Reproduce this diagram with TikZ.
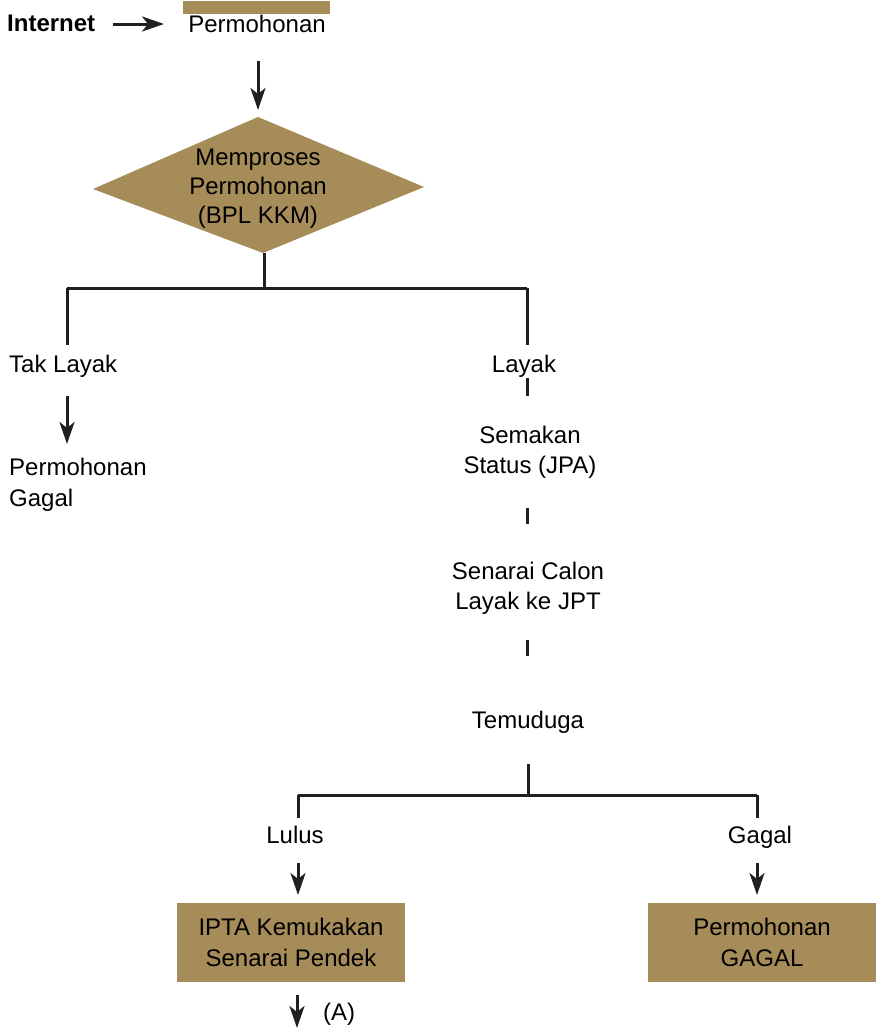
\documentclass[tikz,border=0pt]{standalone}
\usepackage{fontspec}
\setmainfont{Liberation Sans}
\usetikzlibrary{arrows.meta,shapes.geometric}
\definecolor{brownbox}{RGB}{166,140,89}
\definecolor{ink}{RGB}{35,31,32}
\begin{document}
\begin{tikzpicture}[x=1pt,y=-1pt,
  txt/.style={inner sep=0pt,font=\fontsize{24}{30}\selectfont,align=center,text=black},
  ln/.style={draw=ink,line width=3pt},
  arr/.style={draw=ink,line width=3pt,-{Stealth[length=22pt,width=15pt,inset=6pt]}},
  box/.style={fill=brownbox,minimum width=228pt,minimum height=79pt,inner sep=0pt,font=\fontsize{24}{31}\selectfont,align=center}]
\useasboundingbox (0,0) rectangle (876,1028);
% top
\node[txt,font=\fontsize{24}{30}\selectfont\bfseries,anchor=base west] (inet) at (7,31) {Internet};
\fill[brownbox] (183,1) rectangle (330,14);
\node[txt,anchor=base] (perm) at (257,32) {Permohonan};
\coordinate (a1) at (113,24);
\coordinate (a2) at (164,24);
\draw[arr] (a1) -- (a2);
\coordinate (b1) at (258,61);
\coordinate (b2) at (258,110);
\draw[arr] (b1) -- (b2);
% diamond
\fill[brownbox] (258,117) -- (424,187) -- (263,253) -- (93,189) -- cycle;
\node[txt,font=\fontsize{24}{29}\selectfont] (dia) at (258,189) {Memproses\\Permohonan\\(BPL KKM)};
\coordinate (d0) at (264,253);
\coordinate (h0) at (264,288);
\coordinate (hl) at (67,288);
\coordinate (hr) at (527,288);
\draw[ln] (d0) -- (h0);
\draw[ln] (hl) -- (hr);
\coordinate (vl) at (67,345);
\coordinate (vr) at (527,345);
\draw[ln] (hl) -- (vl);
\draw[ln] (hr) -- (vr);
% left branch
\node[txt,anchor=base west] (tak) at (9,372.5) {Tak Layak};
\coordinate (c1) at (67,396);
\coordinate (c2) at (67,444);
\draw[arr] (c1) -- (c2);
\node[txt,anchor=north west,align=left,font=\fontsize{24}{31}\selectfont] (gagal1) at (9,458) {Permohonan\\Gagal};
% right branch
\node[txt,anchor=base] (layak) at (524,372.5) {Layak};
\draw[ln] (527,378) -- (527,396);
\node[txt] (semak) at (530,452) {Semakan\\Status (JPA)};
\draw[ln] (527,508) -- (527,524);
\node[txt] (senarai) at (528,588) {Senarai Calon\\Layak ke JPT};
\draw[ln] (527,640) -- (527,656);
\node[txt,anchor=base] (temu) at (528,728) {Temuduga};
\coordinate (t0) at (528,764);
\coordinate (t1) at (528,795);
\coordinate (tl) at (298,795);
\coordinate (tr) at (757,795);
\draw[ln] (t0) -- (t1);
\draw[ln] (tl) -- (tr);
\draw[ln] (tl) -- (298,818);
\draw[ln] (tr) -- (757,818);
\node[txt,anchor=base] (lulus) at (295,843.5) {Lulus};
\node[txt,anchor=base] (gagal2) at (760,843.5) {Gagal};
\coordinate (e1) at (298,863);
\coordinate (e2) at (298,895);
\draw[arr] (e1) -- (e2);
\coordinate (f1) at (757,863);
\coordinate (f2) at (757,895);
\draw[arr] (f1) -- (f2);
\node[box] (ipta) at (291,942.5) {IPTA Kemukakan\\Senarai Pendek};
\node[box] (pg) at (762,942.5) {Permohonan\\GAGAL};
\coordinate (g1) at (297,995);
\coordinate (g2) at (297,1028);
\draw[arr] (g1) -- (g2);
\node[txt,anchor=base west] (A) at (323,1020) {(A)};
\end{tikzpicture}
\end{document}
